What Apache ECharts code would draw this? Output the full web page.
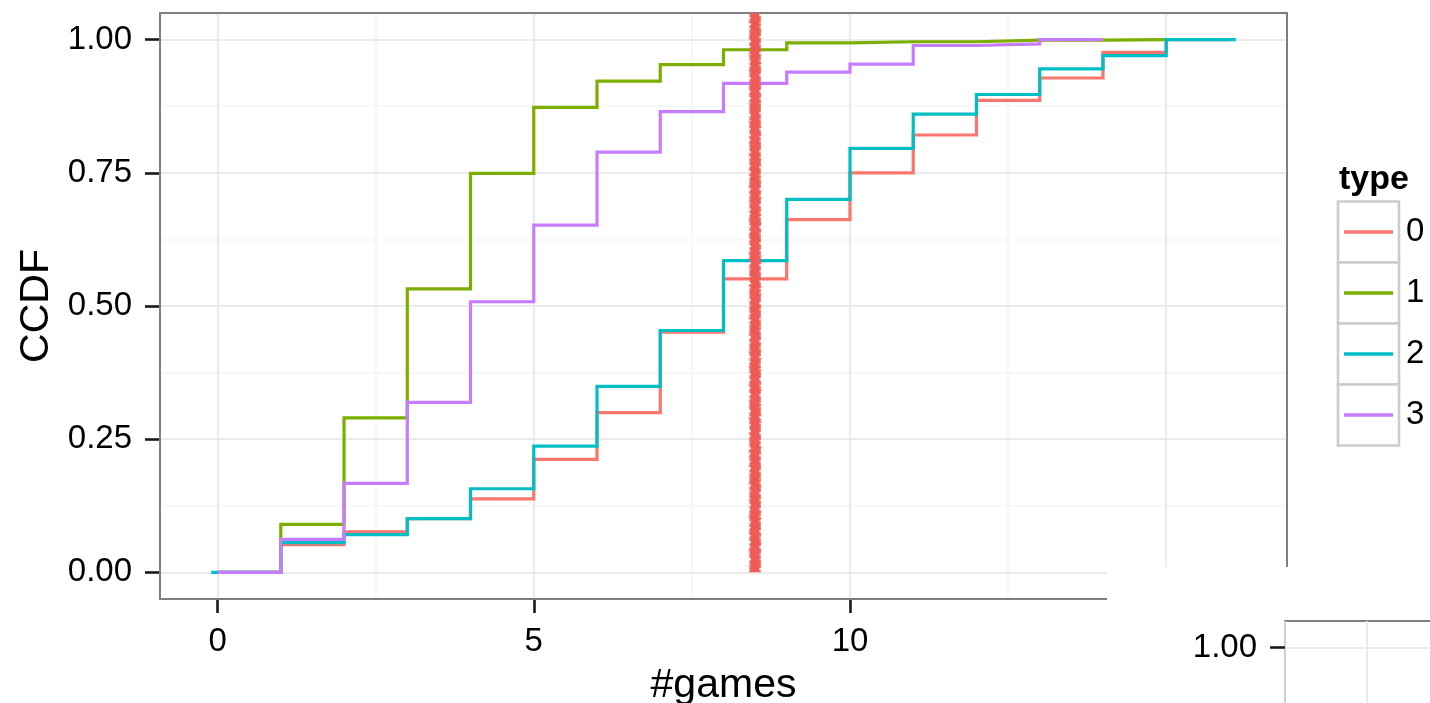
<!DOCTYPE html>
<html>
<head>
<meta charset="utf-8">
<title>CCDF of #games by type</title>
<script src="https://cdn.jsdelivr.net/npm/echarts@6/dist/echarts.min.js"></script>
<style>
  html, body { margin: 0; padding: 0; background: #ffffff; }
  #chart { width: 1430px; height: 703px; }
</style>
</head>
<body>
<div id="chart"></div>
<script>
// Step curves of the CCDF of the number of games played, one per player type.
const types = ['0', '1', '2', '3'];
const typeColors = ['#F8766D', '#7CAE00', '#00BFC4', '#C77CFF'];

// x = number of games, value = CCDF level held from that x up to the next one
const gamesType0 = [0, 1, 2, 3, 4, 5, 6, 7, 8, 9, 10, 11, 12, 13, 14, 15, 16];
const ccdfType0  = [0, 0.052, 0.076, 0.101, 0.138, 0.212, 0.300, 0.451, 0.551, 0.662, 0.750, 0.821, 0.886, 0.928, 0.976, 1.000, 1.000];

const gamesType1 = [0, 1, 2, 3, 4, 5, 6, 7, 8, 9, 10, 11, 12, 13, 14, 15];
const ccdfType1  = [0, 0.090, 0.290, 0.532, 0.749, 0.873, 0.922, 0.953, 0.981, 0.994, 0.996, 0.996, 0.999, 0.999, 1.000, 1.000];

const gamesType2 = [-0.1, 1, 2, 3, 4, 5, 6, 7, 8, 9, 10, 11, 12, 13, 14, 15, 16.1];
const ccdfType2  = [0, 0.056, 0.071, 0.101, 0.157, 0.237, 0.349, 0.454, 0.585, 0.700, 0.796, 0.860, 0.897, 0.945, 0.970, 1.000, 1.000];

const gamesType3 = [0, 1, 2, 3, 4, 5, 6, 7, 8, 9, 10, 11, 12, 13, 14];
const ccdfType3  = [0, 0.062, 0.167, 0.319, 0.508, 0.652, 0.789, 0.865, 0.918, 0.939, 0.954, 0.989, 0.992, 1.000, 1.000];

// vertical marker drawn across the panel
const cutoffGames = [8.5];

// axis breaks and tick labels
const xBreaks = [0, 5, 10, 15];
const xMinorBreaks = [2.5, 7.5, 12.5];
const xTickLabels = [0, 5, 10];
const yBreaks = [0, 0.25, 0.5, 0.75, 1];
const yMinorBreaks = [0.125, 0.375, 0.625, 0.875];
const insetYBreaks = [1];

const seriesGames = [gamesType0, gamesType1, gamesType2, gamesType3];
const seriesCcdf = [ccdfType0, ccdfType1, ccdfType2, ccdfType3];

// panel range: data range padded by 5% on each side
const allGames = [].concat(...seriesGames);
const gLo = Math.min(...allGames), gHi = Math.max(...allGames);
const gPad = (gHi - gLo) * 0.05;
const xMin = gLo - gPad, xMax = gHi + gPad;
const yMin = -0.05, yMax = 1.05;

const FONT = '"Liberation Sans", Arial, Helvetica, sans-serif';
const GRID_MAJOR = '#e5e5e5';
const GRID_MINOR = '#f6f6f6';
const BORDER = '#7f7f7f';

const chart = echarts.init(document.getElementById('chart'), null, { renderer: 'canvas' });

const stepSeries = types.map((name, i) => ({
  name: name,
  type: 'line',
  xAxisIndex: 0,
  yAxisIndex: 0,
  step: 'end',
  symbol: 'none',
  showSymbol: false,
  z: 2 + i * 0.01,
  color: typeColors[i],
  lineStyle: { width: 3.2, color: typeColors[i], cap: 'butt', join: 'miter' },
  data: seriesGames[i].map((g, k) => [g, seriesCcdf[i][k]]),
  animation: false
}));

// rough hand-drawn looking vertical marker
const markerColor = '#ee5b56';
const markerSeries = {
  name: 'cutoff',
  type: 'custom',
  xAxisIndex: 0,
  yAxisIndex: 0,
  z: 5,
  silent: true,
  data: cutoffGames.map(g => [g]),
  renderItem: function (params, api) {
    const x = api.coord([api.value(0), 0])[0];
    const yb = api.coord([0, 0])[1];
    const yt = api.coord([0, yMax])[1];
    const seg = (dx, w, dash, off, op) => ({
      type: 'line',
      shape: { x1: x + dx, y1: yb, x2: x + dx, y2: yt },
      style: { stroke: markerColor, lineWidth: w, lineDash: dash, lineDashOffset: off, opacity: op }
    });
    return {
      type: 'group',
      children: [
        seg(0, 8.5, null, 0, 1),
        seg(-4.6, 2.2, [7, 1, 4, 2, 11, 1, 3, 2, 5, 1], 0, 0.9),
        seg(4.6, 2.2, [5, 2, 9, 1, 3, 1, 6, 2, 8, 1], 3, 0.9),
        seg(-6.0, 1.0, [1, 5, 2, 8, 1, 4, 3, 9], 0, 0.7),
        seg(6.0, 1.0, [2, 7, 1, 4, 1, 10, 2, 5], 4, 0.7)
      ]
    };
  },
  animation: false
};

// legend key boxes
const keyTop = 201.5, keySize = 61, keyLeft = 1338;
const keyBoxes = types.map((t, i) => ({
  type: 'rect',
  z: 1,
  shape: { x: keyLeft, y: keyTop + i * keySize, width: keySize, height: keySize },
  style: { fill: '#ffffff', stroke: '#cccccc', lineWidth: 2.6 }
}));

const hiddenLine = { show: false, onZero: false };

const option = {
  animation: false,
  backgroundColor: '#ffffff',
  textStyle: { fontFamily: FONT },
  grid: [
    { left: 160, top: 13, width: 1127, height: 586, show: true, z: 1.5,
      outerBoundsMode: 'none', containLabel: false,
      borderColor: BORDER, borderWidth: 2, backgroundColor: 'transparent' },
    { left: 1285, top: 621, width: 1000, height: 586, show: true, z: 20,
      outerBoundsMode: 'none', containLabel: false,
      borderColor: BORDER, borderWidth: 2, backgroundColor: '#ffffff' }
  ],
  xAxis: [
    {
      type: 'value', gridIndex: 0, min: xMin, max: xMax, z: 1,
      position: 'bottom',
      name: '#games', nameLocation: 'middle', nameGap: 66,
      nameTextStyle: { fontFamily: FONT, fontSize: 41, color: '#000000' },
      axisLine: hiddenLine,
      axisTick: { show: true, inside: false, length: 14, customValues: xBreaks,
        lineStyle: { color: '#1a1a1a', width: 2.6 } },
      axisLabel: { show: true, customValues: xTickLabels, margin: 26,
        fontFamily: FONT, fontSize: 33, color: '#000000', formatter: v => String(v) },
      splitLine: { show: true, lineStyle: { color: GRID_MAJOR, width: 1.6 } }
    },
    {
      type: 'value', gridIndex: 0, min: xMin, max: xMax, z: 0,
      position: 'bottom',
      axisLine: hiddenLine,
      axisTick: { show: false, customValues: xMinorBreaks },
      axisLabel: { show: false, customValues: xMinorBreaks },
      splitLine: { show: true, lineStyle: { color: GRID_MINOR, width: 1.6 } }
    },
    {
      type: 'value', gridIndex: 1, min: 0, max: 12.2, interval: 1, z: 20,
      position: 'bottom',
      axisLine: hiddenLine, axisTick: { show: false }, axisLabel: { show: false },
      splitLine: { show: true, lineStyle: { color: GRID_MAJOR, width: 1.6 } }
    }
  ],
  yAxis: [
    {
      type: 'value', gridIndex: 0, min: yMin, max: yMax, z: 1,
      position: 'left',
      name: 'CCDF', nameLocation: 'middle', nameGap: 99, nameRotate: 90,
      nameTextStyle: { fontFamily: FONT, fontSize: 41, color: '#000000' },
      axisLine: hiddenLine,
      axisTick: { show: true, inside: false, length: 15, customValues: yBreaks,
        lineStyle: { color: '#1a1a1a', width: 2.6 } },
      axisLabel: { show: true, customValues: yBreaks, margin: 28,
        fontFamily: FONT, fontSize: 33, color: '#000000', formatter: v => v.toFixed(2) },
      splitLine: { show: true, lineStyle: { color: GRID_MAJOR, width: 1.6 } }
    },
    {
      type: 'value', gridIndex: 0, min: yMin, max: yMax, z: 0,
      position: 'left',
      axisLine: hiddenLine,
      axisTick: { show: false, customValues: yMinorBreaks },
      axisLabel: { show: false, customValues: yMinorBreaks },
      splitLine: { show: true, lineStyle: { color: GRID_MINOR, width: 1.6 } }
    },
    {
      type: 'value', gridIndex: 1, min: yMin, max: yMax, z: 20,
      position: 'left',
      axisLine: hiddenLine,
      axisTick: { show: true, inside: false, length: 15, customValues: insetYBreaks,
        lineStyle: { color: '#1a1a1a', width: 2.6 } },
      axisLabel: { show: true, customValues: insetYBreaks, margin: 28,
        fontFamily: FONT, fontSize: 33, color: '#000000', formatter: v => v.toFixed(2) },
      splitLine: { show: true, lineStyle: { color: GRID_MAJOR, width: 1.6 } }
    }
  ],
  legend: {
    show: true,
    data: types,
    orient: 'vertical',
    left: 1344,
    top: keyTop,
    padding: 0,
    itemGap: 0,
    itemWidth: 49,
    itemHeight: 3.5,
    icon: 'rect',
    selectedMode: false,
    z: 6,
    textStyle: { fontFamily: FONT, fontSize: 33, color: '#000000', lineHeight: keySize, padding: [0, 0, 0, 8] }
  },
  graphic: [
    {
      type: 'text', z: 6, left: 1339, top: 163,
      style: { text: 'type', font: 'bold 34px ' + FONT, fill: '#000000' }
    },
    ...keyBoxes,
    {
      // blank area in the lower right, where the inset panel begins
      type: 'rect', z: 10, silent: true,
      shape: { x: 1107, y: 567, width: 330, height: 140 },
      style: { fill: '#ffffff' }
    }
  ],
  series: [...stepSeries, markerSeries]
};

chart.setOption(option);
</script>
</body>
</html>
